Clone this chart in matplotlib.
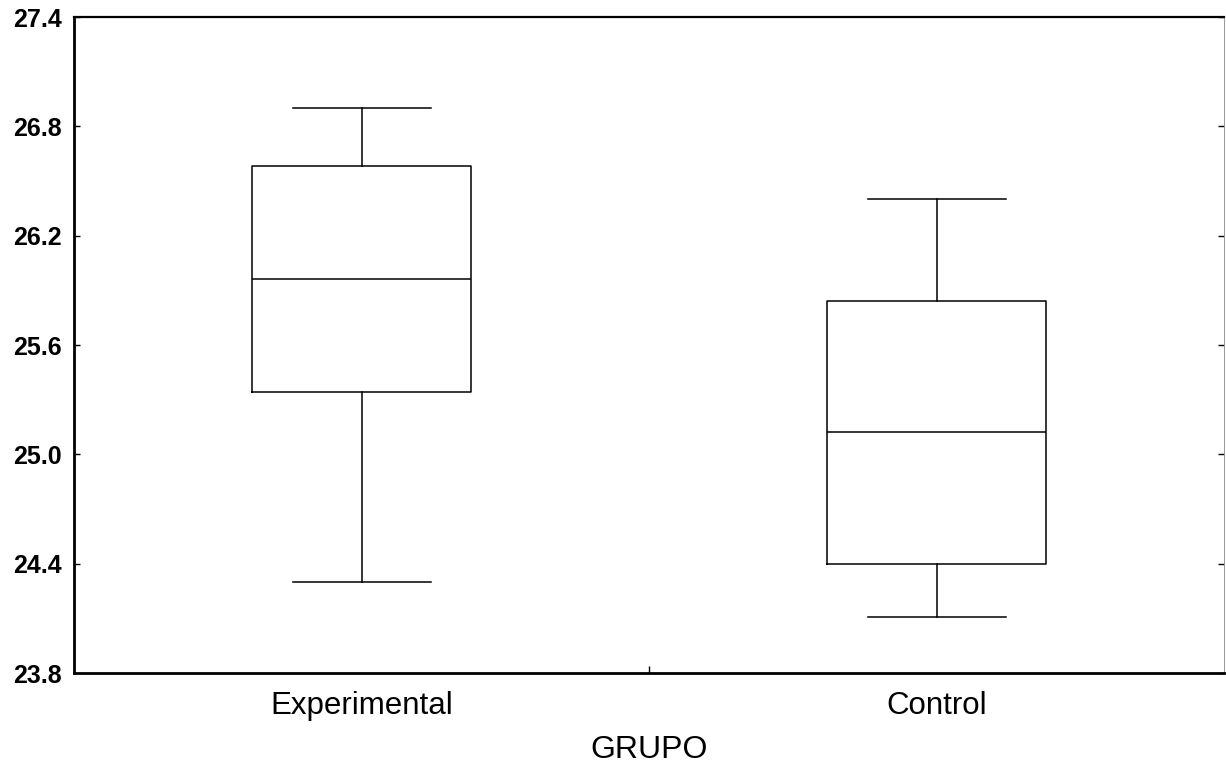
import matplotlib.pyplot as plt

plt.rcParams['font.family'] = ['Liberation Sans', 'DejaVu Sans']

groups = ['Experimental', 'Control']
whisker_low = [24.30, 24.11]
q1 = [25.34, 24.40]
medians = [25.96, 25.12]
q3 = [26.58, 25.84]
whisker_high = [26.90, 26.40]
y_ticks = [23.8, 24.4, 25.0, 25.6, 26.2, 26.8, 27.4]

stats = []
for i, name in enumerate(groups):
    stats.append({'label': name, 'whislo': whisker_low[i], 'q1': q1[i], 'med': medians[i],
                  'q3': q3[i], 'whishi': whisker_high[i], 'fliers': []})

fig = plt.figure(figsize=(12.26, 7.66), dpi=100)
ax = fig.add_axes([0.0604, 0.1214, 0.938, 0.8564])

line = dict(color='black', linewidth=1.1)
ax.bxp(stats, positions=[0, 1], widths=0.38, showfliers=False,
       boxprops=line, medianprops=line, whiskerprops=line,
       capprops=line, capwidths=0.24)

ax.set_xlim(-0.5, 1.5)
ax.set_ylim(23.8, 27.4)
ax.set_yticks(y_ticks)
ax.set_yticklabels([f'{v:.1f}' for v in y_ticks], fontsize=18, fontweight='bold')
ax.set_xticks([0, 1])
ax.set_xticklabels(groups, fontsize=22.5)
ax.set_xticks([0.5], minor=True)
ax.tick_params(axis='x', which='major', length=0, pad=13)
ax.tick_params(axis='x', which='minor', direction='in', length=5, width=1)
ax.tick_params(axis='y', direction='in', length=4, width=1, pad=9, right=True)
ax.set_xlabel('GRUPO', fontsize=23, labelpad=10)

for side in ['left', 'bottom']:
    ax.spines[side].set_linewidth(2)
ax.spines['top'].set_linewidth(1.6)
ax.spines['right'].set_linewidth(0.6)
ax.spines['right'].set_color('#888888')

fig.savefig('out.png', dpi=100)
